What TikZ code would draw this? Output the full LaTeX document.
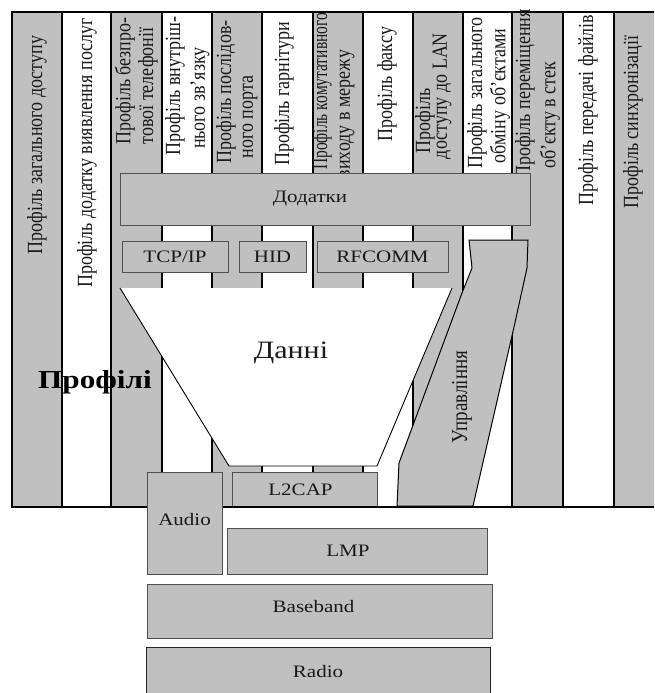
\documentclass[tikz,border=0pt]{standalone}
\usepackage{fontspec}
\setmainfont{Liberation Serif}
\usepackage{graphicx}
\definecolor{gr}{RGB}{192,192,192}
\definecolor{bd}{RGB}{80,80,80}
\definecolor{tx}{RGB}{25,25,25}
\newcommand{\hstr}[1]{\scalebox{1.2}[1]{#1}}
\newcommand{\vstr}[1]{\scalebox{1}[1.2]{#1}}
\begin{document}
\begin{tikzpicture}[x=1pt,y=-1pt,
  coltxt/.style={rotate=90,inner sep=0pt,text=tx,font=\fontsize{18}{20}\selectfont},
  layerbox/.style={draw=bd,line width=1pt,fill=gr,inner sep=0pt,outer sep=0pt},
  boxlabel/.style={text=tx,font=\fontsize{17.5}{20}\selectfont},
  colline/.style={line width=2pt,black},
  thinline/.style={line width=0.9pt,black}]
\useasboundingbox (0,0) rectangle (654,693);
\begin{scope}
\clip (0,0) rectangle (654,693);
% columns
\foreach \a/\b/\c in {12/62/gr,62/111/white,111/162/gr,162/212/white,212/262/gr,262/313/white,313/363/gr,363/413/white,413/463/gr,463/512/white,512/563/gr,563/614/white,614/660/gr}
  \fill[\c] (\a,12) rectangle (\b,507);
\foreach \x in {12,62,111,162,212,262,313,363,413,463,512,563,614}
  \draw[colline] (\x,11) -- (\x,507);
\draw[colline] (11,12) -- (660,12);
% column texts
\node[coltxt] (p1) at (37,145) {\vstr{Профіль загального доступу}};
\node[coltxt] (p2) at (87,153) {\vstr{Профіль додатку виявлення послуг}};
\node[coltxt] (p3a) at (125,81) {\vstr{Профіль безпро-}};
\node[coltxt] (p3b) at (148,86) {\vstr{тової телефонії}};
\node[coltxt] (p4a) at (175,86) {\vstr{Профіль внутріш-}};
\node[coltxt] (p4b) at (200,98) {\vstr{нього зв’язку}};
\node[coltxt] (p5a) at (226,92) {\vstr{Профіль послідов-}};
\node[coltxt] (p5b) at (250,117) {\vstr{ного порта}};
\node[coltxt] (p6) at (284,94) {\vstr{Профіль гарнітури}};
\node[coltxt,anchor=west] (p7a) at (322,170) {\scalebox{0.86}[1.2]{Профіль комутативного}};
\node[coltxt] (p7b) at (347,114) {\vstr{виходу в мережу}};
\node[coltxt] (p8) at (387,84) {\vstr{Профіль факсу}};
\node[coltxt] (p9a) at (425,121) {\vstr{Профіль}};
\node[coltxt] (p9b) at (442,96) {\vstr{доступу до LAN}};
\node[coltxt] (p10a) at (477,93) {\vstr{Профіль загального}};
\node[coltxt] (p10b) at (500,96) {\vstr{обміну об’єктами}};
\node[coltxt] (p11a) at (525,94) {\vstr{Профіль переміщення}};
\node[coltxt] (p11b) at (550,115) {\vstr{об’єкту в стек}};
\node[coltxt] (p12) at (588,110) {\vstr{Профіль передачі файлів}};
\node[coltxt] (p13) at (633,122) {\vstr{Профіль синхронізації}};
% upper boxes
\node[layerbox,minimum width=410pt,minimum height=52pt,
  label={[boxlabel,xshift=-15pt]center:\hstr{Додатки}}] (apps) at (325,199) {};
\node[layerbox,minimum width=106pt,minimum height=31pt,boxlabel] (tcp) at (175,256.5) {\hstr{TCP/IP}};
\node[layerbox,minimum width=67pt,minimum height=31pt,boxlabel] (hid) at (272.5,256.5) {\hstr{HID}};
\node[layerbox,minimum width=131pt,minimum height=31pt,boxlabel] (rfc) at (382.5,256.5) {\hstr{RFCOMM}};
% data trapezoid
\fill[white] (120,288) -- (452,288) -- (377,466) -- (229,466) -- cycle;
\draw[thinline] (452,288) -- (377,466) -- (229,466) -- (120,288);
\node[text=tx,font=\fontsize{25}{28}\selectfont] (data) at (291,353) {\hstr{Данні}};
% control shape
\filldraw[fill=gr,draw=black,line width=1pt]
  (469,240) -- (528,240) -- (527,268) -- (514,327) -- (473,506) -- (397,506)
  -- (399,463) -- (462,293) -- (472,268) -- cycle;
\node[rotate=90,text=tx,font=\fontsize{19}{21}\selectfont] (ctl) at (462,397) {\vstr{Управління}};
% L2CAP
\node[layerbox,minimum width=145pt,minimum height=35pt,
  label={[boxlabel,xshift=-4pt]center:\hstr{L2CAP}}] (l2cap) at (304.5,489.5) {};
% frame bottom
\draw[colline] (11,507) -- (660,507);
% lower layers
\node[layerbox,minimum width=75pt,minimum height=102pt,
  label={[boxlabel,yshift=3pt]center:\hstr{Audio}}] (audio) at (184.5,523) {};
\node[layerbox,minimum width=260pt,minimum height=46pt,
  label={[boxlabel,xshift=-9pt]center:\hstr{LMP}}] (lmp) at (357,551) {};
\node[layerbox,minimum width=345pt,minimum height=54pt,
  label={[boxlabel,xshift=-6pt,yshift=4pt]center:\hstr{Baseband}}] (bb) at (319.5,611) {};
\node[layerbox,draw=black!85,minimum width=344pt,minimum height=60pt,
  label={[boxlabel,yshift=5pt]center:\hstr{Radio}}] (radio) at (318,677) {};
% big label
\node[text=black,font=\bfseries\fontsize{26}{28}\selectfont] (prof) at (95,382) {\hstr{Профілі}};
\end{scope}
\end{tikzpicture}
\end{document}
